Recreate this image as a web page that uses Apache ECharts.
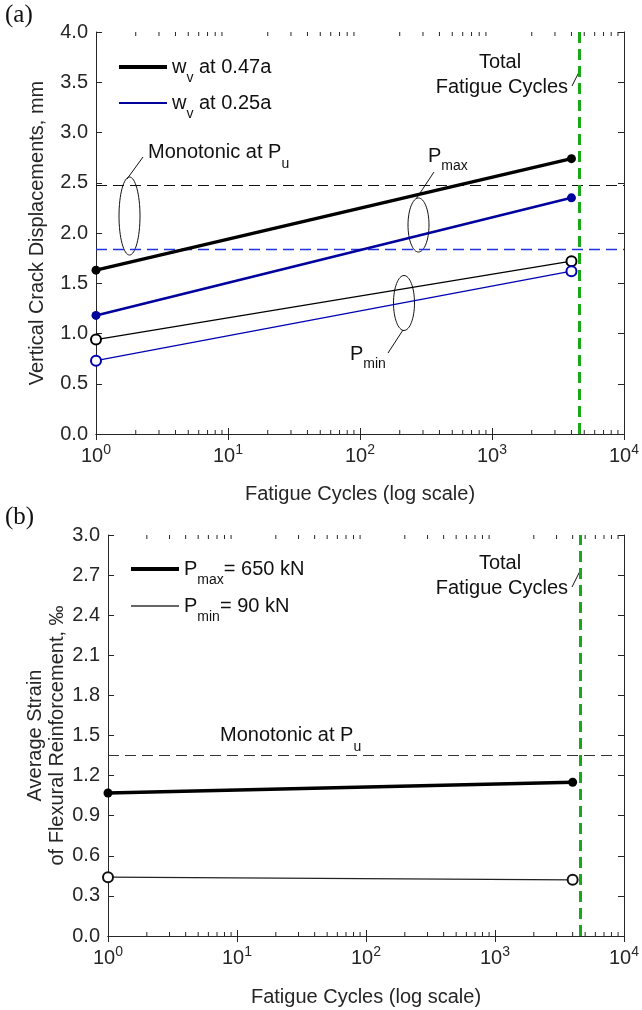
<!DOCTYPE html>
<html><head><meta charset="utf-8">
<script src="https://cdn.jsdelivr.net/npm/echarts@6/dist/echarts.min.js"></script>
<style>html,body{margin:0;padding:0;background:#fff}#c{width:642px;height:1010px}</style>
</head><body><div id="c"></div>
<script>
// ---- data ----
const cycles = [1, 4000];
const wv047Pmax = [1.63, 2.74];
const wv047Pmin = [0.94, 1.72];
const wv025Pmax = [1.18, 2.35];
const wv025Pmin = [0.73, 1.62];
const monotonicWv047 = 2.48;
const monotonicWv025 = 1.84;
const totalFatigueCycles = 4550;
const strainPmax = [1.07, 1.15];
const strainPmin = [0.44, 0.42];
const monotonicStrain = 1.35;
const minorTickValues = [2,3,4,5,6,7,8,9,20,30,40,50,60,70,80,90,200,300,400,500,600,700,800,900,2000,3000,4000,5000,6000,7000,8000,9000];
const topYTicks = {min: 0, max: 4, interval: 0.5};
const botYTicks = {min: 0, max: 3, interval: 0.3};

const FONT = 'Liberation Sans, Arial, sans-serif';
const AX = '#262626';
const FS = 20;
const pairs = (xs, ys) => xs.map((x, i) => [x, ys[i]]);

function xAxes(grid, gap) {
  return [
    {type: 'log', logBase: 10, min: 1, max: 10000, gridIndex: grid, position: 'bottom',
     axisLine: {lineStyle: {color: AX, width: 1}},
     axisTick: {inside: true, length: 6, lineStyle: {color: AX}},
     axisLabel: {margin: 9, color: AX, showMinLabel: true, showMaxLabel: true, hideOverlap: false,
       formatter: v => '{b|10}{s|' + Math.round(Math.log10(v)) + '}',
       rich: {b: {fontSize: FS, lineHeight: 26, fontFamily: FONT, color: AX},
              s: {fontSize: 14, lineHeight: 14, verticalAlign: 'top', fontFamily: FONT, color: AX}}},
     splitLine: {show: false},
     name: 'Fatigue Cycles (log scale)', nameLocation: 'middle', nameGap: gap,
     nameTextStyle: {fontSize: FS, color: AX, fontFamily: FONT}},
    {type: 'log', logBase: 10, min: 1, max: 10000, gridIndex: grid, position: 'top',
     axisLine: {lineStyle: {color: AX, width: 1}},
     axisTick: {inside: true, length: 6, lineStyle: {color: AX}},
     axisLabel: {show: false}, splitLine: {show: false}}
  ];
}
function yAxes(grid, t, name, gap) {
  return [
    {type: 'value', gridIndex: grid, position: 'left', min: t.min, max: t.max, interval: t.interval,
     axisLine: {show: true, lineStyle: {color: AX, width: 1}},
     axisTick: {show: true, inside: true, length: 6, lineStyle: {color: AX}},
     axisLabel: {margin: 8, color: AX, fontSize: FS, fontFamily: FONT, formatter: v => v.toFixed(1)},
     splitLine: {show: false},
     name: name, nameLocation: 'middle', nameGap: gap, nameRotate: 90, nameMoveOverlap: false,
     nameTextStyle: {fontSize: FS, color: AX, fontFamily: FONT, lineHeight: 22}},
    {type: 'value', gridIndex: grid, position: 'right', min: t.min, max: t.max, interval: t.interval,
     axisLine: {show: true, lineStyle: {color: AX, width: 1}},
     axisTick: {show: true, inside: true, length: 6, lineStyle: {color: AX}},
     axisLabel: {show: false}, splitLine: {show: false}}
  ];
}
function minorTicks(xi, yi) {
  return {type: 'custom', xAxisIndex: xi, yAxisIndex: yi, silent: true, z: 1,
    data: minorTickValues.map(v => [v, 0]), encode: {x: 0, y: 1},
    renderItem: (params, api) => {
      const x = api.coord([api.value(0), 0])[0];
      const cs = params.coordSys;
      const st = {stroke: AX, lineWidth: 1};
      return {type: 'group', children: [
        {type: 'line', shape: {x1: x, y1: cs.y + cs.height, x2: x, y2: cs.y + cs.height - 4}, style: st},
        {type: 'line', shape: {x1: x, y1: cs.y, x2: x, y2: cs.y + 4}, style: st}
      ]};
    }};
}
const richTxt = (L) => ({
  a: {fontSize: FS, lineHeight: L, fontFamily: FONT, color: '#111'},
  s: {fontSize: 14, lineHeight: 14, verticalAlign: 'bottom', fontFamily: FONT, color: '#111'}
});
function txt(x, y, text, L, align) {
  return {type: 'text', x: x, y: y, silent: true,
    style: {text: text, rich: richTxt(L), align: align || 'left', verticalAlign: 'middle', fontSize: FS, fontFamily: FONT, fill: '#111'}};
}
function plain(x, y, text, align) {
  return {type: 'text', x: x, y: y, silent: true,
    style: {text: text, align: align || 'center', verticalAlign: 'middle', fontSize: FS, fontFamily: FONT, fill: '#111'}};
}
function ln(x1, y1, x2, y2) {
  return {type: 'line', silent: true, shape: {x1, y1, x2, y2}, style: {stroke: '#111', lineWidth: 1}};
}
function ell(cx, cy, rx, ry) {
  return {type: 'ellipse', silent: true, shape: {cx, cy, rx, ry}, style: {fill: null, stroke: '#111', lineWidth: 1}};
}
const dashBlack = {type: [11, 6], color: '#111', width: 1.2};
const legendBase = (name, h, top, left, color) => ({
  show: true, orient: 'vertical', left: left, top: top, itemWidth: 48, itemHeight: h, itemGap: 5,
  icon: 'rect', selectedMode: false,
  data: [{name: name, itemStyle: {color: color}}],
  formatter: n => n,
  textStyle: {fontSize: FS, fontFamily: FONT, color: '#111', rich: richTxt(36)}
});

const option = {
  animation: false,
  backgroundColor: '#fff',
  grid: [
    {left: 96, top: 32, width: 529, height: 402},
    {left: 108, top: 535, width: 517, height: 401}
  ],
  xAxis: [...xAxes(0, 50), ...xAxes(1, 51)],
  yAxis: [...yAxes(0, topYTicks, 'Vertical Crack Displacements, mm', 48),
          ...yAxes(1, botYTicks, 'Average Strain\nof Flexural Reinforcement, ‰', 40)],
  legend: [
    legendBase('{a|w}{s|v}{a| at 0.47a}', 4, 52, 114, '#000'),
    legendBase('{a|w}{s|v}{a| at 0.25a}', 2, 88, 114, '#00009c'),
    legendBase('{a|P}{s|max}{a|= 650 kN}', 4, 554, 126, '#000'),
    legendBase('{a|P}{s|min}{a|= 90 kN}', 2, 591, 126, '#666')
  ],
  series: [
    {name: '{a|w}{s|v}{a| at 0.47a}', type: 'line', xAxisIndex: 0, yAxisIndex: 0, z: 5,
     data: pairs(cycles, wv047Pmax), symbol: 'circle', symbolSize: 9,
     lineStyle: {color: '#000', width: 3.4}, itemStyle: {color: '#000'},
     markLine: {silent: true, symbol: ['none', 'none'], label: {show: false}, lineStyle: dashBlack,
       data: [{yAxis: monotonicWv047}]}},
    {name: '{a|w}{s|v}{a| at 0.47a}', type: 'line', xAxisIndex: 0, yAxisIndex: 0, z: 5,
     data: pairs(cycles, wv047Pmin), symbol: 'emptyCircle', symbolSize: 10,
     lineStyle: {color: '#000', width: 1.3}, itemStyle: {color: '#000', borderWidth: 1.2}},
    {name: '{a|w}{s|v}{a| at 0.25a}', type: 'line', xAxisIndex: 0, yAxisIndex: 0, z: 5,
     data: pairs(cycles, wv025Pmax), symbol: 'circle', symbolSize: 9,
     lineStyle: {color: '#00009c', width: 2.6}, itemStyle: {color: '#00009c'},
     markLine: {silent: true, symbol: ['none', 'none'], label: {show: false},
       lineStyle: {type: [11, 6], color: '#2233dd', width: 1.3},
       data: [{yAxis: monotonicWv025}]}},
    {name: '{a|w}{s|v}{a| at 0.25a}', type: 'line', xAxisIndex: 0, yAxisIndex: 0, z: 5,
     data: pairs(cycles, wv025Pmin), symbol: 'emptyCircle', symbolSize: 10,
     lineStyle: {color: '#0000b0', width: 1.2}, itemStyle: {color: '#0000b0', borderWidth: 1.2},
     markLine: {silent: true, symbol: ['none', 'none'], label: {show: false},
       lineStyle: {type: [11, 6], color: '#18a818', width: 3},
       data: [{xAxis: totalFatigueCycles}]}},
    minorTicks(0, 0),
    {name: '{a|P}{s|max}{a|= 650 kN}', type: 'line', xAxisIndex: 2, yAxisIndex: 2, z: 5,
     data: pairs(cycles, strainPmax), symbol: 'circle', symbolSize: 9,
     lineStyle: {color: '#000', width: 3.4}, itemStyle: {color: '#000'},
     markLine: {silent: true, symbol: ['none', 'none'], label: {show: false},
       lineStyle: {type: [11, 6], color: '#333', width: 1.2},
       data: [{yAxis: monotonicStrain}]}},
    {name: '{a|P}{s|min}{a|= 90 kN}', type: 'line', xAxisIndex: 2, yAxisIndex: 2, z: 5,
     data: pairs(cycles, strainPmin), symbol: 'emptyCircle', symbolSize: 10,
     lineStyle: {color: '#222', width: 1.3}, itemStyle: {color: '#111', borderWidth: 1.2},
     markLine: {silent: true, symbol: ['none', 'none'], label: {show: false},
       lineStyle: {type: [11, 6], color: '#18a818', width: 3},
       data: [{xAxis: totalFatigueCycles}]}},
    minorTicks(2, 2)
  ],
  graphic: [
    {type: 'text', x: 5, y: 3, silent: true, style: {text: '(a)', fontSize: 25, fontFamily: 'Liberation Serif, Times New Roman, serif', fill: '#111'}},
    {type: 'text', x: 5, y: 505, silent: true, style: {text: '(b)', fontSize: 25, fontFamily: 'Liberation Serif, Times New Roman, serif', fill: '#111'}},
    // panel a annotations
    txt(148, 152, '{a|Monotonic at P}{s|u}', 38),
    ln(127, 179, 143, 157),
    ell(129.5, 216, 10.5, 39),
    txt(428, 156, '{a|P}{s|max}', 34),
    ln(416, 199, 434, 172),
    ell(418.5, 225, 10.5, 27),
    txt(350, 354, '{a|P}{s|min}', 34),
    ln(403, 330, 388, 353),
    ell(404, 303, 10.5, 27.5),
    plain(500, 62, 'Total'),
    plain(568, 87, 'Fatigue Cycles', 'right'),
    ln(572, 86, 580, 70),
    // panel b annotations
    plain(500, 563, 'Total'),
    plain(568, 588, 'Fatigue Cycles', 'right'),
    ln(572, 587, 580, 571),
    txt(220, 735, '{a|Monotonic at P}{s|u}', 38)
  ]
};
const chart = echarts.init(document.getElementById('c'), null, {renderer: 'canvas'});
chart.setOption(option);
</script>
</body></html>
